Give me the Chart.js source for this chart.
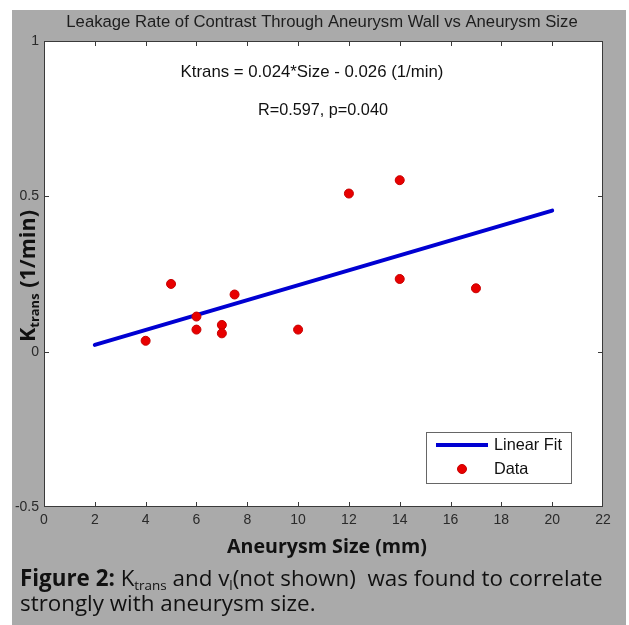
<!DOCTYPE html>
<html><head><meta charset="utf-8">
<script src="https://cdn.jsdelivr.net/npm/chart.js@4.4.1/dist/chart.umd.min.js"></script>
<style>html,body{margin:0;padding:0;background:#fff;overflow:hidden}</style>
</head><body>
<canvas id="c" width="629" height="625"></canvas>
<script>
// ---- data ----
const sizes   = [4, 5, 6, 6, 7, 7, 7.5, 10, 12, 14, 14, 17];
const ktrans  = [0.035, 0.218, 0.113, 0.071, 0.086, 0.059, 0.184, 0.071, 0.509, 0.552, 0.234, 0.204];
const fitX    = [2, 20];
const fitY    = [0.022, 0.454];
const xTicks  = [0, 2, 4, 6, 8, 10, 12, 14, 16, 18, 20, 22];
const yTicks  = [-0.5, 0, 0.5, 1];
const titleText = 'Leakage Rate of Contrast Through Aneurysm Wall vs Aneurysm Size';
const eqText    = 'Ktrans = 0.024*Size - 0.026 (1/min)';
const statText  = 'R=0.597, p=0.040';
const xTitle    = 'Aneurysm Size (mm)';
const legendLabels = ['Linear Fit', 'Data'];

const GRAY = '#aaaaaa';
const SANS = '"Liberation Sans", Arial, sans-serif';
const CAL  = '"Open Sans", "Noto Sans", sans-serif';

function fitSize(ctx, text, weight, family, target) {
  ctx.font = `${weight} 100px ${family}`;
  return 100 * target / ctx.measureText(text).width;
}
function richWidth(ctx, segs, k) {
  let w = 0;
  for (const s of segs) { ctx.font = `${s.b ? 'bold ' : ''}${s.s * k}px ${s.f}`; w += ctx.measureText(s.t).width; }
  return w;
}
function drawRich(ctx, segs, x, y, k) {
  ctx.textAlign = 'left'; ctx.textBaseline = 'alphabetic';
  for (const s of segs) {
    ctx.font = `${s.b ? 'bold ' : ''}${s.s * k}px ${s.f}`;
    ctx.fillText(s.t, x, y + (s.dy || 0) * k);
    x += ctx.measureText(s.t).width;
  }
}

const decor = {
  id: 'decor',
  beforeDraw(chart) {
    const ctx = chart.ctx, a = chart.chartArea;
    ctx.save();
    ctx.fillStyle = '#ffffff'; ctx.fillRect(0, 0, chart.width, chart.height);
    ctx.fillStyle = GRAY; ctx.fillRect(12, 10, 614, 615);
    ctx.fillStyle = '#ffffff'; ctx.fillRect(a.left, a.top, a.right - a.left, a.bottom - a.top);
    ctx.restore();
  },
  afterDraw(chart) {
    const ctx = chart.ctx, a = chart.chartArea;
    const xs = chart.scales.x, ys = chart.scales.y;
    ctx.save();
    // frame + inward ticks
    ctx.strokeStyle = '#3a3a3a'; ctx.lineWidth = 1;
    ctx.strokeRect(a.left + 0.5, a.top + 0.5, a.right - a.left - 1, a.bottom - a.top - 1);
    ctx.beginPath();
    for (const v of xTicks) {
      const px = Math.round(xs.getPixelForValue(v)) + 0.5;
      if (v === xTicks[0] || v === xTicks[xTicks.length - 1]) continue;
      ctx.moveTo(px, a.bottom); ctx.lineTo(px, a.bottom - 5);
      ctx.moveTo(px, a.top); ctx.lineTo(px, a.top + 5);
    }
    for (const v of yTicks) {
      const py = Math.round(ys.getPixelForValue(v)) + 0.5;
      if (v === yTicks[0] || v === yTicks[yTicks.length - 1]) continue;
      ctx.moveTo(a.left, py); ctx.lineTo(a.left + 5, py);
      ctx.moveTo(a.right, py); ctx.lineTo(a.right - 5, py);
    }
    ctx.stroke();

    // title
    ctx.fillStyle = '#1e1e1e'; ctx.textAlign = 'center'; ctx.textBaseline = 'middle';
    let fs = fitSize(ctx, titleText, '', SANS, 512);
    ctx.font = `${fs}px ${SANS}`; ctx.fillText(titleText, 322, 22);
    // annotations
    ctx.fillStyle = '#111';
    fs = fitSize(ctx, eqText, '', SANS, 263);
    ctx.font = `${fs}px ${SANS}`; ctx.fillText(eqText, 312, 72);
    fs = fitSize(ctx, statText, '', SANS, 130);
    ctx.font = `${fs}px ${SANS}`; ctx.fillText(statText, 323, 111);

    // legend
    const lx = 426, ly = 432, lw = 145, lh = 51;
    ctx.fillStyle = '#fff'; ctx.fillRect(lx, ly, lw, lh);
    ctx.strokeStyle = '#666'; ctx.lineWidth = 1; ctx.strokeRect(lx + 0.5, ly + 0.5, lw, lh);
    const dsL = chart.data.datasets[1], dsP = chart.data.datasets[0];
    ctx.strokeStyle = dsL.borderColor; ctx.lineWidth = dsL.borderWidth;
    ctx.beginPath(); ctx.moveTo(436, 445); ctx.lineTo(488, 445); ctx.stroke();
    ctx.fillStyle = dsP.backgroundColor; ctx.strokeStyle = dsP.borderColor; ctx.lineWidth = 1;
    ctx.beginPath(); ctx.arc(462, 469, 4.5, 0, Math.PI * 2); ctx.fill(); ctx.stroke();
    ctx.fillStyle = '#111'; ctx.textAlign = 'left'; ctx.textBaseline = 'middle';
    fs = fitSize(ctx, legendLabels[0], '', SANS, 68);
    ctx.font = `${fs}px ${SANS}`;
    ctx.fillText(legendLabels[0], 494, 445);
    ctx.fillText(legendLabels[1], 494, 469);

    // x axis title
    ctx.fillStyle = '#111'; ctx.textAlign = 'center'; ctx.textBaseline = 'alphabetic';
    fs = fitSize(ctx, xTitle, 'bold', CAL, 200);
    ctx.font = `bold ${fs}px ${CAL}`; ctx.fillText(xTitle, 327, 553);

    // y axis title (rotated, with subscript)
    const ySegs = [
      { t: 'K', s: 20, b: true, f: CAL },
      { t: 'trans', s: 12, b: true, f: CAL, dy: 4 },
      { t: ' (1/min)', s: 20, b: true, f: CAL }
    ];
    let k = 132 / richWidth(ctx, ySegs, 1);
    ctx.save();
    ctx.translate(35, 276); ctx.rotate(-Math.PI / 2);
    drawRich(ctx, ySegs, -132 / 2, 0, k);
    ctx.restore();

    // caption
    const cap1 = [
      { t: 'Figure 2:', s: 20, b: true, f: CAL },
      { t: ' K', s: 20, f: CAL },
      { t: 'trans', s: 12, f: CAL, dy: 4 },
      { t: ' and v', s: 20, f: CAL },
      { t: 'l', s: 12, f: CAL, dy: 4 },
      { t: '(not shown)  was found to correlate', s: 20, f: CAL }
    ];
    const cap2 = [{ t: 'strongly with aneurysm size.', s: 20, f: CAL }];
    k = 583 / richWidth(ctx, cap1, 1);
    ctx.fillStyle = '#111';
    drawRich(ctx, cap1, 20, 586, k);
    drawRich(ctx, cap2, 20, 611, k);
    ctx.restore();
  }
};

new Chart(document.getElementById('c'), {
  type: 'scatter',
  data: {
    datasets: [
      {
        label: legendLabels[1],
        data: sizes.map((x, i) => ({ x, y: ktrans[i] })),
        backgroundColor: 'rgb(232,0,0)',
        borderColor: 'rgb(200,0,0)',
        borderWidth: 1,
        pointRadius: 4.5,
        order: 0
      },
      {
        label: legendLabels[0],
        type: 'line',
        data: fitX.map((x, i) => ({ x, y: fitY[i] })),
        borderColor: 'rgb(0,0,210)',
        borderWidth: 4,
        pointRadius: 0,
        borderCapStyle: 'round',
        fill: false,
        order: 1
      }
    ]
  },
  options: {
    responsive: false,
    animation: false,
    layout: { padding: { left: 12, top: 41, right: 26, bottom: 94 } },
    plugins: { legend: { display: false }, tooltip: { enabled: false }, title: { display: false } },
    scales: {
      x: {
        type: 'linear', min: 0, max: 22,
        afterBuildTicks: s => { s.ticks = xTicks.map(v => ({ value: v })); },
        afterFit: s => { s.height = 24; },
        grid: { display: false, drawTicks: false },
        border: { display: false },
        ticks: { padding: 5, color: '#2a2a2a', font: { family: SANS, size: 14 } }
      },
      y: {
        type: 'linear', min: -0.5, max: 1,
        afterBuildTicks: s => { s.ticks = yTicks.map(v => ({ value: v })); },
        afterFit: s => { s.width = 32; },
        grid: { display: false, drawTicks: false },
        border: { display: false },
        ticks: { padding: 5, color: '#2a2a2a', font: { family: SANS, size: 14 }, callback: v => String(v) }
      }
    }
  },
  plugins: [decor]
});
</script>
</body></html>
